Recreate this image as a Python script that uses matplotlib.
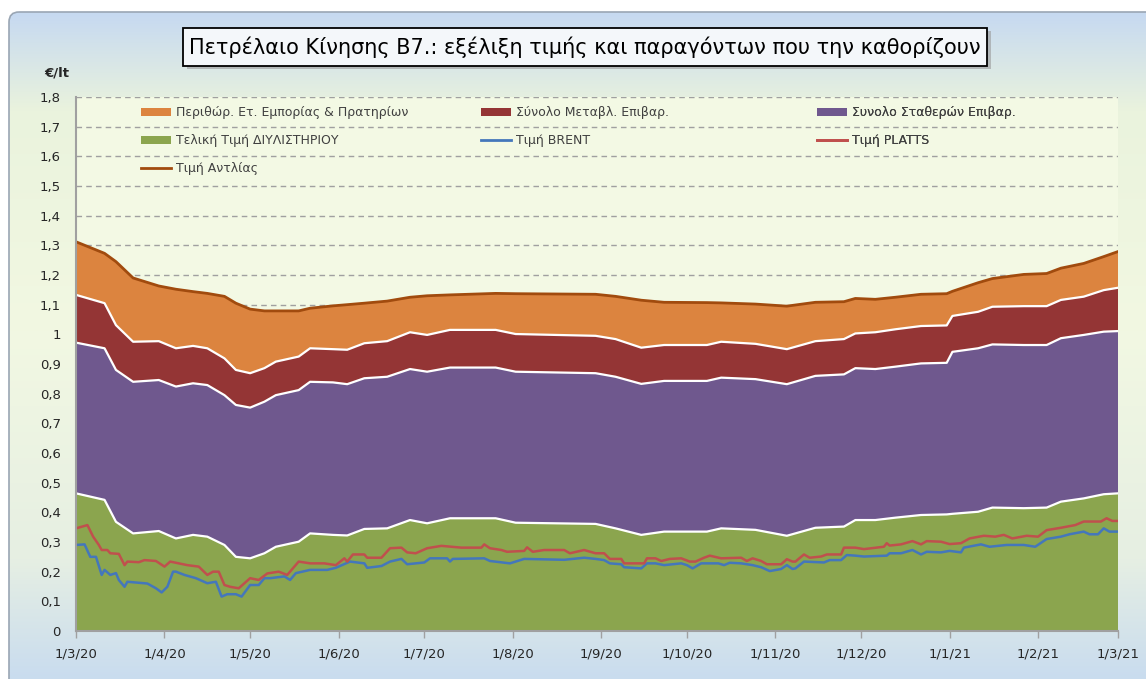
import matplotlib.pyplot as plt
import matplotlib.dates as mdates
import matplotlib.ticker as mticker
import numpy as np
import pandas as pd
from matplotlib.patches import FancyBboxPatch, Rectangle, Patch
from matplotlib.lines import Line2D
from matplotlib.colors import to_rgb

# stacked components (€/lt)
stack_dates = ['2020-03-01', '2020-03-11', '2020-03-15', '2020-03-21', '2020-03-30', '2020-04-05',
               '2020-04-11', '2020-04-16', '2020-04-22', '2020-04-26', '2020-05-01', '2020-05-06',
               '2020-05-10', '2020-05-18', '2020-05-22', '2020-05-30', '2020-06-04', '2020-06-10',
               '2020-06-18', '2020-06-26', '2020-07-02', '2020-07-10', '2020-07-26', '2020-08-02',
               '2020-08-30', '2020-09-06', '2020-09-15', '2020-09-23', '2020-10-08', '2020-10-13',
               '2020-10-25', '2020-11-05', '2020-11-15', '2020-11-25', '2020-11-29', '2020-12-06',
               '2020-12-13', '2020-12-22', '2020-12-31', '2021-01-02', '2021-01-11', '2021-01-16',
               '2021-01-27', '2021-02-04', '2021-02-09', '2021-02-17', '2021-02-24', '2021-03-01']
refinery = [0.464, 0.442, 0.368, 0.329, 0.337, 0.312, 0.324, 0.318, 0.290, 0.250, 0.245, 0.262,
            0.284, 0.301, 0.329, 0.324, 0.322, 0.344, 0.346, 0.374, 0.363, 0.380, 0.380, 0.365,
            0.361, 0.346, 0.324, 0.335, 0.335, 0.346, 0.341, 0.321, 0.348, 0.352, 0.374, 0.374,
            0.382, 0.391, 0.393, 0.395, 0.402, 0.416, 0.414, 0.416, 0.436, 0.447, 0.461, 0.464]
fixed_tax = [0.508, 0.511, 0.512, 0.511, 0.509, 0.512, 0.511, 0.511, 0.505, 0.512, 0.508, 0.511,
             0.511, 0.511, 0.511, 0.514, 0.510, 0.508, 0.511, 0.509, 0.511, 0.508, 0.508, 0.509,
             0.508, 0.511, 0.509, 0.508, 0.508, 0.508, 0.508, 0.511, 0.512, 0.513, 0.512, 0.509,
             0.509, 0.511, 0.511, 0.546, 0.551, 0.550, 0.550, 0.548, 0.551, 0.551, 0.548, 0.547]
variable_tax = [0.161, 0.152, 0.151, 0.135, 0.131, 0.129, 0.126, 0.124, 0.124, 0.118, 0.116, 0.113,
                0.113, 0.113, 0.113, 0.112, 0.116, 0.118, 0.120, 0.124, 0.124, 0.127, 0.127, 0.127,
                0.126, 0.127, 0.122, 0.121, 0.121, 0.121, 0.119, 0.118, 0.117, 0.119, 0.117, 0.124,
                0.126, 0.126, 0.126, 0.121, 0.123, 0.127, 0.131, 0.131, 0.129, 0.129, 0.140, 0.146]
margin = [0.179, 0.168, 0.214, 0.215, 0.186, 0.199, 0.183, 0.185, 0.209, 0.225, 0.216, 0.193,
          0.171, 0.154, 0.135, 0.146, 0.152, 0.135, 0.135, 0.118, 0.132, 0.118, 0.123, 0.136,
          0.140, 0.144, 0.160, 0.144, 0.143, 0.131, 0.134, 0.145, 0.131, 0.126, 0.118, 0.111,
          0.108, 0.107, 0.107, 0.083, 0.098, 0.095, 0.107, 0.110, 0.107, 0.112, 0.113, 0.122]

platts_dates = ['2020-03-01', '2020-03-05', '2020-03-07', '2020-03-09', '2020-03-10', '2020-03-12',
                '2020-03-13', '2020-03-16', '2020-03-18', '2020-03-19', '2020-03-23', '2020-03-25',
                '2020-03-29', '2020-04-01', '2020-04-03', '2020-04-09', '2020-04-13', '2020-04-16',
                '2020-04-18', '2020-04-20', '2020-04-22', '2020-04-24', '2020-04-27', '2020-05-01',
                '2020-05-04', '2020-05-07', '2020-05-11', '2020-05-14', '2020-05-18', '2020-05-22',
                '2020-05-27', '2020-05-31', '2020-06-03', '2020-06-04', '2020-06-06', '2020-06-10',
                '2020-06-11', '2020-06-16', '2020-06-19', '2020-06-23', '2020-06-25', '2020-06-28',
                '2020-07-02', '2020-07-07', '2020-07-14', '2020-07-21', '2020-07-22', '2020-07-24',
                '2020-07-28', '2020-07-30', '2020-08-05', '2020-08-06', '2020-08-08', '2020-08-12',
                '2020-08-19', '2020-08-21', '2020-08-26', '2020-08-30', '2020-09-02', '2020-09-04',
                '2020-09-08', '2020-09-09', '2020-09-16', '2020-09-17', '2020-09-20', '2020-09-22',
                '2020-09-25', '2020-09-29', '2020-10-02', '2020-10-04', '2020-10-07', '2020-10-09',
                '2020-10-13', '2020-10-20', '2020-10-22', '2020-10-24', '2020-10-27', '2020-10-29',
                '2020-11-03', '2020-11-05', '2020-11-07', '2020-11-08', '2020-11-11', '2020-11-13',
                '2020-11-17', '2020-11-19', '2020-11-24', '2020-11-25', '2020-11-29', '2020-12-02',
                '2020-12-09', '2020-12-10', '2020-12-11', '2020-12-15', '2020-12-19', '2020-12-22',
                '2020-12-24', '2020-12-29', '2021-01-01', '2021-01-05', '2021-01-08', '2021-01-13',
                '2021-01-17', '2021-01-20', '2021-01-23', '2021-01-28', '2021-02-01', '2021-02-04',
                '2021-02-09', '2021-02-14', '2021-02-17', '2021-02-23', '2021-02-25', '2021-02-27',
                '2021-03-01']
platts = [0.346, 0.357, 0.318, 0.290, 0.273, 0.273, 0.262, 0.260, 0.222, 0.234, 0.232, 0.239,
          0.236, 0.217, 0.234, 0.222, 0.217, 0.189, 0.200, 0.200, 0.155, 0.149, 0.144, 0.178,
          0.172, 0.194, 0.200, 0.189, 0.234, 0.228, 0.228, 0.222, 0.245, 0.234, 0.258, 0.258,
          0.247, 0.247, 0.279, 0.281, 0.265, 0.262, 0.279, 0.287, 0.281, 0.281, 0.292, 0.279,
          0.273, 0.267, 0.270, 0.282, 0.267, 0.273, 0.273, 0.262, 0.273, 0.262, 0.262, 0.243,
          0.243, 0.228, 0.228, 0.245, 0.245, 0.236, 0.243, 0.245, 0.234, 0.234, 0.247, 0.254,
          0.245, 0.247, 0.236, 0.245, 0.236, 0.225, 0.225, 0.242, 0.234, 0.234, 0.258, 0.247,
          0.251, 0.258, 0.258, 0.281, 0.281, 0.276, 0.284, 0.296, 0.288, 0.292, 0.303, 0.292,
          0.303, 0.301, 0.293, 0.296, 0.312, 0.321, 0.318, 0.324, 0.312, 0.321, 0.318, 0.340,
          0.348, 0.357, 0.369, 0.369, 0.380, 0.371, 0.371]

brent_dates = ['2020-03-01', '2020-03-04', '2020-03-06', '2020-03-08', '2020-03-10', '2020-03-11',
               '2020-03-13', '2020-03-15', '2020-03-16', '2020-03-18', '2020-03-19', '2020-03-26',
               '2020-03-29', '2020-03-31', '2020-04-02', '2020-04-04', '2020-04-05', '2020-04-08',
               '2020-04-12', '2020-04-16', '2020-04-19', '2020-04-21', '2020-04-23', '2020-04-26',
               '2020-04-28', '2020-05-01', '2020-05-04', '2020-05-06', '2020-05-08', '2020-05-13',
               '2020-05-15', '2020-05-17', '2020-05-22', '2020-05-28', '2020-05-31', '2020-06-05',
               '2020-06-10', '2020-06-11', '2020-06-16', '2020-06-19', '2020-06-23', '2020-06-25',
               '2020-07-01', '2020-07-03', '2020-07-09', '2020-07-10', '2020-07-11', '2020-07-22',
               '2020-07-24', '2020-07-31', '2020-08-05', '2020-08-19', '2020-08-26', '2020-08-30',
               '2020-09-02', '2020-09-04', '2020-09-08', '2020-09-09', '2020-09-15', '2020-09-17',
               '2020-09-20', '2020-09-23', '2020-09-29', '2020-10-01', '2020-10-03', '2020-10-06',
               '2020-10-12', '2020-10-14', '2020-10-16', '2020-10-20', '2020-10-24', '2020-10-27',
               '2020-10-30', '2020-11-03', '2020-11-05', '2020-11-07', '2020-11-08', '2020-11-11',
               '2020-11-18', '2020-11-20', '2020-11-24', '2020-11-26', '2020-11-29', '2020-12-02',
               '2020-12-10', '2020-12-11', '2020-12-15', '2020-12-19', '2020-12-22', '2020-12-24',
               '2020-12-29', '2021-01-01', '2021-01-05', '2021-01-06', '2021-01-12', '2021-01-15',
               '2021-01-21', '2021-01-27', '2021-01-31', '2021-02-04', '2021-02-09', '2021-02-12',
               '2021-02-17', '2021-02-19', '2021-02-22', '2021-02-24', '2021-02-26', '2021-03-01']
brent = [0.290, 0.292, 0.250, 0.250, 0.189, 0.206, 0.189, 0.195, 0.172, 0.149, 0.166, 0.160,
         0.144, 0.130, 0.149, 0.200, 0.200, 0.189, 0.178, 0.161, 0.166, 0.116, 0.124, 0.124,
         0.116, 0.155, 0.155, 0.178, 0.178, 0.184, 0.172, 0.195, 0.206, 0.206, 0.213, 0.234,
         0.228, 0.213, 0.219, 0.234, 0.243, 0.225, 0.231, 0.245, 0.245, 0.234, 0.243, 0.245,
         0.236, 0.228, 0.243, 0.240, 0.247, 0.243, 0.239, 0.228, 0.225, 0.215, 0.211, 0.228,
         0.228, 0.222, 0.228, 0.222, 0.211, 0.228, 0.228, 0.222, 0.230, 0.228, 0.222, 0.215,
         0.202, 0.209, 0.222, 0.209, 0.211, 0.234, 0.231, 0.239, 0.239, 0.256, 0.254, 0.251,
         0.254, 0.262, 0.262, 0.273, 0.258, 0.267, 0.265, 0.270, 0.265, 0.281, 0.292, 0.284,
         0.290, 0.290, 0.284, 0.310, 0.318, 0.326, 0.335, 0.326, 0.326, 0.346, 0.335, 0.335]

labels = ['Περιθώρ. Ετ. Εμπορίας & Πρατηρίων', 'Σύνολο Μεταβλ. Επιβαρ.', 'Συνολο Σταθερών Επιβαρ.',
          'Τελική Τιμή ΔΙΥΛΙΣΤΗΡΙΟΥ', 'Τιμή BRENT', 'Τιμή PLATTS', 'Τιμή Αντλίας']
title = 'Πετρέλαιο Κίνησης Β7.: εξέλιξη τιμής και παραγόντων που την καθορίζουν'

c_green = '#8BA54E'
c_purple = '#6F588E'
c_red = '#943535'
c_orange = '#DC843F'
c_brent = '#4477BB'
c_platts = '#C0504D'
c_pump = '#A14B0E'

W, H = 1146, 679
fig = plt.figure(figsize=(W / 100, H / 100), dpi=100)

# background panel with vertical gradient
bg = fig.add_axes([0, 0, 1, 1], zorder=-10)
bg.axis('off')
stops_y = [12, 110, 330, 560, 679]
stops_c = ['#C6D9F1', '#EAF3DD', '#F2F8E2', '#E6EFE3', '#C9DCEF']
ys = np.linspace(12, 712, 400)
rgb = np.array([to_rgb(c) for c in stops_c])
grad = np.stack([np.interp(ys, stops_y, rgb[:, i]) for i in range(3)], axis=-1)[:, None, :]
panel = FancyBboxPatch((9, 12), 1160, 700, boxstyle='round,pad=0,rounding_size=10',
                       ec='#9AA6B4', fc='none', lw=1.2)
bg.add_patch(panel)
im = bg.imshow(grad, extent=[9, 1169, 712, 12], aspect='auto')
im.set_clip_path(panel)
bg.set_xlim(0, W)
bg.set_ylim(H, 0)

# title box
bg.add_patch(Rectangle((187, 31), 804, 38, fc='#9A9A9A', ec='none', alpha=0.6))
bg.add_patch(Rectangle((183, 28), 804, 38, fc='#F4F7FA', ec='black', lw=1.3))
bg.text(585, 47, title, ha='center', va='center', fontsize=15, color='black')
bg.text(44, 73, '€/lt', ha='left', va='center', fontsize=9.5, fontweight='bold', color='#262626')

# main plot
ax = fig.add_axes([76 / W, 1 - 631 / H, 1042 / W, 534 / H])
ax.set_facecolor('#F3F9E4')

yticks = np.arange(0, 1.81, 0.1)
for yv in yticks[1:]:
    ax.axhline(yv, ls=(0, (4, 3)), color='#A0A0A0', lw=1, zorder=0.8)

sd = pd.to_datetime(stack_dates)
ax.stackplot(sd, refinery, fixed_tax, variable_tax, margin,
             colors=[c_green, c_purple, c_red, c_orange], lw=0, zorder=2)
lvl1 = np.array(refinery)
lvl2 = lvl1 + np.array(fixed_tax)
lvl3 = lvl2 + np.array(variable_tax)
pump = lvl3 + np.array(margin)
for lvl in (lvl1, lvl2, lvl3):
    ax.plot(sd, lvl, color='white', lw=1.6, zorder=3)
ax.plot(sd, pump, color=c_pump, lw=2, zorder=4)
ax.plot(pd.to_datetime(brent_dates), brent, color=c_brent, lw=1.8, zorder=4)
ax.plot(pd.to_datetime(platts_dates), platts, color=c_platts, lw=1.8, zorder=4)

ax.set_xlim(pd.Timestamp('2020-03-01'), pd.Timestamp('2021-03-01'))
ax.set_ylim(0, 1.8)
ax.set_yticks(yticks)
ax.yaxis.set_major_formatter(mticker.FuncFormatter(
    lambda v, p: ('%.1f' % v).replace('.0', '').replace('.', ',')))
ax.xaxis.set_major_locator(mdates.MonthLocator(bymonthday=1))
ax.xaxis.set_major_formatter(mticker.FuncFormatter(
    lambda v, p: '%d/%d/%s' % (mdates.num2date(v).day, mdates.num2date(v).month,
                               mdates.num2date(v).strftime('%y'))))
for s in ('top', 'right'):
    ax.spines[s].set_visible(False)
for s in ('left', 'bottom'):
    ax.spines[s].set_color('#A0A0A0')
    ax.spines[s].set_linewidth(1.5)
    ax.spines[s].set_zorder(5)
ax.tick_params(axis='y', length=0, pad=11, labelsize=9.5, labelcolor='#262626')
ax.tick_params(axis='x', length=5, width=1, color='#A0A0A0', direction='out', pad=7,
               labelsize=9.5, labelcolor='#262626')

# legend in three columns
def patch(c):
    return Patch(facecolor=c, edgecolor='none')

def line(c):
    return Line2D([], [], color=c, lw=2)

cols = [
    ([patch(c_orange), patch(c_green), line(c_pump)], [labels[0], labels[3], labels[6]], 0.0624),
    ([patch(c_red), line(c_brent)], [labels[1], labels[4]], 0.3887),
    ([patch(c_purple), line(c_platts)], [labels[2], labels[5]], 0.711),
]
for handles, labs, x0 in cols:
    leg = ax.legend(handles, labs, loc='upper left', bbox_to_anchor=(x0, 0.983), frameon=False,
                    fontsize=9, handlelength=2.4, handleheight=0.6, handletextpad=0.4,
                    labelspacing=1.2, borderpad=0, borderaxespad=0, labelcolor='#404040')
    ax.add_artist(leg)

fig.savefig('out.png', dpi=100)
